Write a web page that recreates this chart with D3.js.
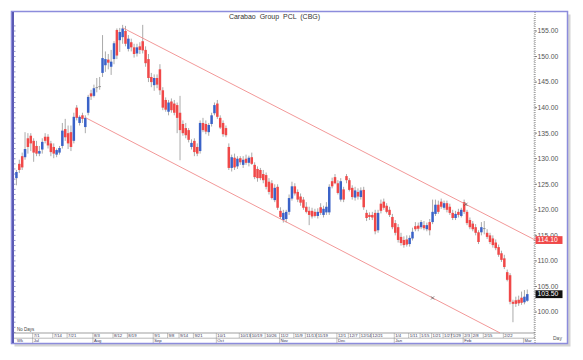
<!DOCTYPE html>
<html>
<head>
<meta charset="utf-8">
<script src="https://cdn.jsdelivr.net/npm/d3@7"></script>
<style>
  body { margin: 0; background: #fff; }
  svg text { font-family: "Liberation Sans", Arial, sans-serif; }
</style>
</head>
<body>
<svg id="chart" width="583" height="360"></svg>
<script>
// daily bars, [open, high, low, close]
const ohlc = [
  [126.2,127.8,124.8,127.4],[129.0,129.8,127.2,127.8],[130.5,131.2,127.8,128.3],[130.3,135.2,129.8,131.9],
  [134.0,135.0,131.0,132.3],[134.5,135.0,131.5,133.0],[133.5,134.0,129.4,131.2],[132.5,133.5,130.5,131.0],
  [131.0,132.5,130.5,131.5],[131.8,134.0,131.0,133.3],[134.3,135.0,133.0,133.5],[134.3,134.8,132.0,132.6],
  [133.0,133.5,130.5,131.3],[132.3,133.0,130.1,131.0],[130.8,132.0,130.3,131.7],[131.2,132.5,130.8,132.1],
  [132.5,137.0,132.0,135.5],[135.8,137.8,133.5,134.2],[135.0,136.5,131.9,133.0],[135.2,136.5,131.5,132.3],
  [133.5,139.0,133.0,138.2],[140.0,140.5,137.5,138.0],[137.0,138.5,136.5,138.2],[138.5,139.0,137.0,137.8],
  [136.2,138.5,135.0,138.0],[139.0,142.5,138.5,142.1],[142.8,143.5,141.5,142.2],[142.3,144.5,142.0,143.8],
  [144.0,145.8,143.0,144.0],[144.2,146.0,143.5,144.2],[146.8,154.2,146.0,149.7],[148.3,151.0,147.0,149.5],
  [149.4,150.5,147.5,148.8],[148.0,151.3,146.4,149.0],[149.5,153.0,148.5,152.6],[155.2,155.5,149.5,150.2],
  [153.2,155.6,150.9,154.8],[153.8,156.2,152.5,155.5],[155.0,156.0,152.0,152.5],[151.5,154.2,151.0,153.5],
  [152.8,153.5,151.0,151.8],[151.8,152.5,149.8,150.5],[150.6,152.5,150.0,151.8],[152.0,152.8,150.5,151.3],
  [153.0,156.2,150.6,151.2],[151.3,152.0,148.0,148.7],[149.5,150.5,145.0,145.8],[146.0,146.8,144.0,145.0],
  [144.4,146.5,143.3,145.8],[145.8,146.5,143.8,144.5],[147.5,148.5,142.5,143.4],[143.4,144.0,139.5,140.0],
  [141.5,142.0,139.2,139.6],[139.2,141.5,138.5,141.0],[141.2,141.8,139.0,139.5],[140.8,141.5,138.5,139.0],
  [140.5,141.0,135.0,138.0],[139.0,142.3,129.7,135.6],[136.8,137.5,134.5,135.0],[136.0,137.0,134.0,134.6],
  [135.6,136.0,133.2,133.7],[132.3,133.8,131.8,133.1],[133.5,134.0,130.5,131.3],[132.3,133.0,130.5,131.0],
  [131.5,137.5,131.0,137.0],[137.0,138.0,135.2,135.6],[136.8,137.5,134.8,135.3],[135.2,137.0,134.5,136.6],
  [136.8,139.0,136.3,138.5],[138.9,141.0,138.5,140.5],[140.8,141.5,137.8,138.2],[138.0,138.5,135.8,136.1],
  [137.0,137.5,134.3,134.8],[136.0,136.5,134.2,134.6],[132.3,133.0,127.8,128.2],[128.2,130.8,127.5,130.3],
  [130.2,131.0,127.8,128.3],[128.5,130.5,128.0,130.0],[130.1,130.5,128.8,129.3],[128.8,130.5,128.2,129.8],
  [130.0,130.8,128.8,129.2],[129.2,130.6,128.5,130.2],[130.3,131.2,128.8,129.0],[128.8,129.3,126.0,126.4],
  [128.0,128.5,125.5,126.2],[127.8,128.2,125.8,126.2],[127.0,127.8,125.2,125.8],[126.8,127.3,124.0,124.5],
  [125.5,126.2,123.0,123.5],[125.2,125.8,122.0,122.3],[121.9,125.0,121.5,124.3],[124.5,125.0,120.0,120.4],
  [119.8,120.5,118.2,118.6],[118.0,120.0,117.5,119.4],[118.2,120.0,117.5,119.6],[119.6,123.0,119.0,122.3],
  [122.2,125.5,121.8,124.6],[124.6,125.2,122.8,123.2],[123.5,124.0,121.5,122.0],[122.6,123.2,120.8,121.4],
  [122.0,122.5,120.0,120.4],[120.6,121.5,119.3,119.6],[119.8,120.6,117.0,119.0],[119.8,120.4,118.3,118.7],
  [119.6,120.2,118.5,118.8],[118.8,120.3,118.3,119.6],[120.5,121.3,119.0,119.4],[119.0,120.8,118.5,120.2],
  [119.5,121.5,119.0,120.6],[119.5,125.0,119.0,124.5],[125.6,126.3,124.2,124.6],[126.4,127.0,125.0,125.2],
  [125.2,125.8,123.0,123.3],[122.0,126.2,121.6,125.6],[124.0,124.5,121.5,122.0],[126.6,127.0,125.2,125.8],
  [125.8,126.2,123.6,123.9],[124.3,124.8,122.0,122.5],[122.4,124.5,121.8,123.8],[123.5,124.2,122.0,122.6],
  [122.5,124.4,122.0,123.8],[123.9,124.5,120.0,120.5],[119.4,120.0,117.8,118.4],[119.0,119.5,118.0,118.6],
  [119.0,119.6,118.0,118.5],[119.4,120.0,115.2,115.8],[116.0,120.0,115.5,119.4],[121.2,122.0,119.3,119.8],
  [121.6,122.2,120.0,120.4],[120.8,121.3,119.3,119.6],[120.0,120.6,118.6,119.0],[118.6,119.2,116.2,116.6],
  [117.4,118.0,115.0,115.5],[116.6,117.2,113.6,114.1],[114.7,115.5,113.0,113.5],[114.1,114.8,112.6,113.1],
  [114.2,115.0,112.8,113.2],[113.3,115.0,112.8,114.5],[114.4,116.5,114.0,115.7],[116.8,117.6,115.8,116.2],
  [116.9,117.5,115.8,116.3],[116.6,118.0,116.2,117.6],[117.0,117.8,116.0,116.4],[116.2,117.5,115.8,117.0],
  [117.6,118.2,115.0,116.0],[117.6,122.0,117.2,119.6],[119.2,122.0,118.8,121.0],[121.0,121.8,119.2,119.6],
  [121.6,122.2,120.2,120.6],[120.4,121.8,120.0,121.3],[121.3,121.8,119.5,120.0],[120.6,121.2,119.0,119.4],
  [119.4,120.0,118.0,118.4],[118.4,119.8,118.0,119.2],[119.6,120.2,118.5,119.0],[118.8,120.4,118.5,120.0],
  [121.5,122.0,119.2,119.6],[119.6,120.0,117.0,117.4],[118.0,118.5,116.2,116.6],[117.3,117.8,115.8,116.2],
  [116.6,117.2,115.0,115.5],[115.6,116.0,113.3,113.7],[115.6,117.6,115.0,116.6],[116.4,117.8,115.2,116.4],
  [115.5,116.2,114.3,114.7],[115.0,115.5,113.3,113.7],[114.4,115.0,112.6,113.1],[113.6,114.2,112.1,112.5],
  [112.7,113.2,110.8,111.2],[111.5,112.0,109.8,110.2],[110.5,111.2,108.4,108.8],[107.8,108.3,106.0,106.3],
  [107.2,107.6,101.5,102.0],[102.0,102.4,98.0,101.6],[102.3,103.0,101.0,101.6],[102.4,103.2,101.2,101.7],
  [102.8,104.0,101.4,101.8],[101.9,104.3,101.5,103.0],[102.2,104.4,102.0,103.5]
];

// trend channel, [bar index, price] at both ends
const channel_upper = [[37.1, 155.6], [180.7, 114.1]];
const channel_lower = [[24.2, 138.0], [168.5, 95.9]];
const channel_marks = [[156.6, 'upper'], [145, 'lower']];

const price_ticks = [100, 105, 110, 115, 120, 125, 130, 135, 140, 145, 150, 155];
const price_flags = [114.10, 103.50];

const month_idx = [6, 27, 48, 70, 92, 112, 132, 156, 177];
const month_names = ['Jul', 'Aug', 'Sep', 'Oct', 'Nov', 'Dec', 'Jan', 'Feb', 'Mar'];
const week_idx = [6, 13, 18, 27, 34, 39, 48, 53, 57, 62, 70, 78, 82, 87, 92, 97, 101, 105,
  112, 116, 120, 124, 132, 137, 141, 145, 149, 152, 156, 159, 163, 170];
const week_names = ['7/1', '7/14', '7/21', '8/3', '8/12', '8/19', '9/1', '9/8', '9/14', '9/21',
  '10/1', '10/13', '10/19', '10/26', '11/2', '11/9', '11/13', '11/19', '12/1', '12/7', '12/14',
  '12/21', '1/4', '1/11', '1/15', '1/21', '1/27', '1/29', '2/3', '2/8', '2/15', '2/22'];

const svg = d3.select('#chart');
const plot_left = 14, plot_right = 535, plot_top = 12, plot_bottom = 333;

const x = d3.scaleLinear().domain([-0.5, 179.5]).range([15, 531.6]);
const y = d3.scaleLinear().domain([100, 155]).range([312, 31]);

// frame + shadow
svg.append('rect').attr('x', 14.5).attr('y', 14.5).attr('width', 556).attr('height', 332)
  .attr('fill', '#d4d4d4');
svg.append('rect').attr('x', 11.5).attr('y', 11.5).attr('width', 556).attr('height', 332)
  .attr('fill', '#fff').attr('stroke', '#8c8cdc').attr('stroke-width', 1.5);

// left scale strip
svg.append('line').attr('x1', 13).attr('x2', 13).attr('y1', 12).attr('y2', 343)
  .attr('stroke', '#5a5ab4').attr('stroke-width', 2);
svg.append('g').selectAll('line')
  .data(d3.range(96, 157))
  .enter().append('line')
  .attr('x1', 13).attr('x2', 15.5)
  .attr('y1', (d) => y(d)).attr('y2', (d) => y(d))
  .attr('stroke', '#6a6ab8').attr('stroke-width', 0.7);

// right price axis
const axis = svg.append('g');
axis.append('line').attr('x1', plot_right).attr('x2', plot_right).attr('y1', plot_top).attr('y2', 343)
  .attr('stroke', '#666').attr('stroke-width', 0.8).attr('stroke-dasharray', '1,1');
axis.selectAll('.minor')
  .data(d3.range(95, 158, 0.5))
  .enter().append('line')
  .attr('class', 'minor')
  .attr('x1', plot_right - 1.5).attr('x2', plot_right)
  .attr('y1', (d) => y(d)).attr('y2', (d) => y(d))
  .attr('stroke', '#777').attr('stroke-width', 0.5);
axis.selectAll('.major')
  .data(price_ticks)
  .enter().append('line')
  .attr('class', 'major')
  .attr('x1', plot_right).attr('x2', plot_right + 2)
  .attr('y1', (d) => y(d)).attr('y2', (d) => y(d))
  .attr('stroke', '#555').attr('stroke-width', 0.7);
axis.selectAll('text')
  .data(price_ticks)
  .enter().append('text')
  .attr('x', plot_right + 2.5).attr('y', (d) => y(d))
  .attr('dy', '0.35em')
  .attr('font-size', 6.8).attr('fill', '#555')
  .text((d) => d.toFixed(2));

// bottom date rows
const dates = svg.append('g');
dates.append('line').attr('x1', plot_left).attr('x2', plot_right).attr('y1', plot_bottom).attr('y2', plot_bottom)
  .attr('stroke', '#777').attr('stroke-width', 0.7);
dates.append('line').attr('x1', plot_left).attr('x2', plot_right).attr('y1', 338.2).attr('y2', 338.2)
  .attr('stroke', '#888').attr('stroke-width', 0.6);
dates.selectAll('.wk')
  .data(week_idx)
  .enter().append('line')
  .attr('class', 'wk')
  .attr('x1', (d) => x(d) - 1).attr('x2', (d) => x(d) - 1)
  .attr('y1', plot_bottom).attr('y2', 338)
  .attr('stroke', '#888').attr('stroke-width', 0.5);
dates.selectAll('.wkt')
  .data(week_idx)
  .enter().append('text')
  .attr('class', 'wkt')
  .attr('x', (d) => x(d)).attr('y', 337.2)
  .attr('font-size', 4.2).attr('fill', '#335')
  .text((d, i) => week_names[i]);
dates.selectAll('.mo')
  .data(month_idx)
  .enter().append('line')
  .attr('class', 'mo')
  .attr('x1', (d) => x(d) - 1).attr('x2', (d) => x(d) - 1)
  .attr('y1', 338).attr('y2', 343)
  .attr('stroke', '#888').attr('stroke-width', 0.5);
dates.selectAll('.mot')
  .data(month_idx)
  .enter().append('text')
  .attr('class', 'mot')
  .attr('x', (d) => x(d)).attr('y', 342.3)
  .attr('font-size', 4.2).attr('fill', '#335')
  .text((d, i) => month_names[i]);
dates.append('text').attr('x', 17).attr('y', 342.3).attr('font-size', 4.2).attr('fill', '#335').text('Wk');
svg.append('text').attr('x', 17).attr('y', 331).attr('font-size', 4.5).attr('fill', '#444').text('No Days');
svg.append('text').attr('x', 553).attr('y', 340).attr('font-size', 5).attr('fill', '#555').text('Day');

// title
svg.append('text').attr('x', (plot_left + plot_right) / 2).attr('y', 18.5)
  .attr('text-anchor', 'middle').attr('font-size', 7).attr('fill', '#333')
  .attr('xml:space', 'preserve')
  .text('Carabao  Group  PCL  (CBG)');

// candles
const plot = svg.append('g');
const body_w = 2.5;
const candle_color = (d) => d[3] > d[0] ? '#3a62c8' : (d[3] < d[0] ? '#f04848' : '#8a8a8a');

plot.selectAll('.wick')
  .data(ohlc)
  .enter().append('line')
  .attr('class', 'wick')
  .attr('x1', (d, i) => x(i)).attr('x2', (d, i) => x(i))
  .attr('y1', (d) => y(d[1])).attr('y2', (d) => y(d[2]))
  .attr('stroke', '#a0a0a0').attr('stroke-width', 0.9);

plot.selectAll('.body')
  .data(ohlc)
  .enter().append('rect')
  .attr('class', 'body')
  .attr('x', (d, i) => x(i) - body_w / 2)
  .attr('y', (d) => y(Math.max(d[0], d[3])))
  .attr('width', body_w)
  .attr('height', (d) => Math.max(0.9, Math.abs(y(d[0]) - y(d[3]))))
  .attr('fill', candle_color);

// channel
const line_price = (ends, i) => ends[0][1] + (ends[1][1] - ends[0][1]) * (i - ends[0][0]) / (ends[1][0] - ends[0][0]);
[channel_upper, channel_lower].forEach((ends) => {
  svg.append('line')
    .attr('x1', x(ends[0][0])).attr('y1', y(ends[0][1]))
    .attr('x2', x(ends[1][0])).attr('y2', y(ends[1][1]))
    .attr('stroke', '#f08c8c').attr('stroke-width', 0.9);
});
channel_marks.forEach(([i, which]) => {
  const ends = which === 'upper' ? channel_upper : channel_lower;
  const cx = x(i), cy = y(line_price(ends, i));
  svg.append('path')
    .attr('d', `M${cx - 1.6},${cy - 1.6}L${cx + 1.6},${cy + 1.6}M${cx - 1.6},${cy + 1.6}L${cx + 1.6},${cy - 1.6}`)
    .attr('stroke', '#555').attr('stroke-width', 0.7).attr('fill', 'none');
});

// price flags on the axis
price_flags.forEach((v, k) => {
  const g = svg.append('g');
  g.append('rect').attr('x', plot_right + 0.5).attr('y', y(v) - 3.8).attr('width', 27).attr('height', 7.8)
    .attr('fill', k === 0 ? '#f04848' : '#111');
  g.append('text').attr('x', plot_right + 2.5).attr('y', y(v)).attr('dy', '0.35em')
    .attr('font-size', 6.8).attr('fill', '#fff').text(v.toFixed(2));
});
</script>
</body>
</html>
